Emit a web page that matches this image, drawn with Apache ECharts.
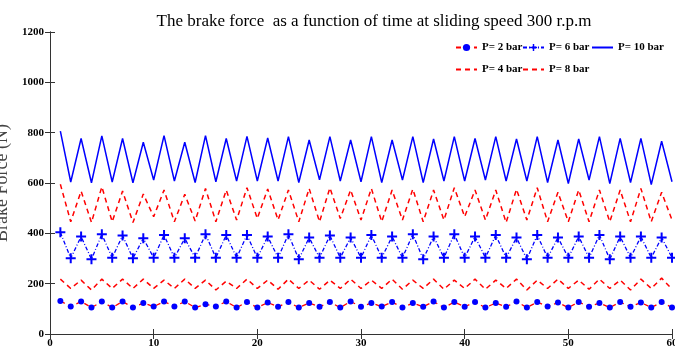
<!DOCTYPE html>
<html>
<head>
<meta charset="utf-8">
<script src="https://cdn.jsdelivr.net/npm/echarts@6/dist/echarts.min.js"></script>
<style>html,body{margin:0;padding:0;background:#fff}#c{width:675px;height:351px}</style>
</head>
<body>
<div id="c"></div>
<script>
var time = [1,2,3,4,5,6,7,8,9,10,11,12,13,14,15,16,17,18,19,20,21,22,23,24,25,26,27,28,29,30,31,32,33,34,35,36,37,38,39,40,41,42,43,44,45,46,47,48,49,50,51,52,53,54,55,56,57,58,59,60];
var p2 = [131,109,129,105,129,105,129,105,123,109,129,109,129,105,118,109,129,105,127,105,125,108,127,105,123,108,127,105,129,108,123,109,127,105,123,108,129,105,127,108,127,105,123,108,129,105,127,109,125,105,127,108,123,105,127,108,125,105,127,105];
var p4 = [218,181,214,175,218,181,218,181,218,181,214,181,218,181,214,175,210,181,218,181,214,178,218,181,214,178,214,181,218,181,214,181,218,178,214,181,218,178,214,181,218,178,214,181,218,175,214,181,218,181,214,178,218,181,214,175,218,181,222,178];
var p6 = [404,301,387,297,396,303,391,301,380,303,393,303,380,303,396,303,393,303,393,303,387,303,396,297,383,303,391,303,383,303,393,303,387,303,396,297,387,303,396,303,387,303,393,303,383,297,393,303,383,303,387,303,393,297,387,303,387,303,383,303];
var p8 = [595,446,568,443,585,446,568,443,556,466,572,446,555,449,578,446,572,453,581,459,576,453,572,446,578,446,581,459,572,453,578,446,572,453,576,446,572,453,581,466,572,453,572,443,575,453,581,446,563,446,572,446,572,446,572,446,578,446,563,453];
var p10 = [806,604,777,601,787,604,777,601,762,612,788,608,762,602,788,605,777,608,785,608,779,608,784,602,771,613,784,608,771,605,784,602,771,612,784,602,775,608,784,608,777,612,784,608,775,608,784,602,771,598,775,612,784,598,777,602,777,594,766,605];
var xTicks = [0,10,20,30,40,50,60];
var yTicks = [0,200,400,600,800,1000,1200];

function pairs(v){ return time.map(function(t,i){ return [t, v[i]]; }); }
var FONT = "'Liberation Serif','Times New Roman',serif";
var plus = 'path://M4,0 L6,0 L6,4 L10,4 L10,6 L6,6 L6,10 L4,10 L4,6 L0,6 L0,4 L4,4 Z';
var chart = echarts.init(document.getElementById('c'));
var axisCommon = {
  axisLine:{show:true, lineStyle:{color:'#333', width:1}},
  axisTick:{show:true, inside:true, length:5, lineStyle:{color:'#333'}},
  splitLine:{show:false}
};
function leg(name, left, top, hideSym){
  var l = {data:[name], left:left, top:top, itemWidth:21, itemHeight:9, itemGap:4,
    textStyle:{fontFamily:FONT, fontWeight:'bold', fontSize:11, color:'#000'}};
  if (hideSym) l.itemStyle = {opacity:0};
  return l;
}
chart.setOption({
  animation:false,
  title:{text:'The brake force  as a function of time at sliding speed 300 r.p.m', left:369, textAlign:'center', top:8,
    textStyle:{fontFamily:FONT, fontWeight:'normal', fontSize:17, color:'#000'}},
  grid:{left:50, right:3, top:32, bottom:17, outerBoundsMode:'none', containLabel:false},
  legend:[leg('P= 2 bar',450,37,false), leg('P= 6 bar',517,37,false), leg('P= 10 bar',586,37,true), leg('P= 4 bar',450,59,true), leg('P= 8 bar',517,59,true)],
  xAxis:[
    Object.assign({type:'value', min:0, max:60, interval:10, position:'bottom',
      axisLabel:{fontFamily:FONT, fontWeight:'bold', fontSize:11, color:'#000', margin:4,
        formatter:function(v){ return xTicks.indexOf(v)>=0 ? String(v) : ''; }}}, axisCommon),
    Object.assign({type:'value', min:0, max:60, interval:10, position:'top', axisLabel:{show:false}}, axisCommon)
  ],
  yAxis:[
    Object.assign({type:'value', min:0, max:1200, interval:200, position:'left',
      name:'Brake Force (N)', nameLocation:'middle', nameGap:32, nameRotate:90,
      nameTextStyle:{fontFamily:FONT, fontSize:18, color:'#444'},
      axisLabel:{fontFamily:FONT, fontWeight:'bold', fontSize:11, color:'#000', margin:6,
        formatter:function(v){ return yTicks.indexOf(v)>=0 ? String(v) : ''; }}}, axisCommon),
    Object.assign({type:'value', min:0, max:1200, interval:200, position:'right', axisLabel:{show:false}}, axisCommon)
  ],
  series:[
    {name:'P= 2 bar', type:'line', data:pairs(p2), symbol:'circle', symbolSize:6,
      itemStyle:{color:'#0000ff'}, lineStyle:{color:'#ff0000', width:1.3, type:[5,4]}},
    {name:'P= 6 bar', type:'line', data:pairs(p6), symbol:plus, symbolSize:10,
      itemStyle:{color:'#0000ff'}, lineStyle:{color:'#0000ff', width:1.3, type:[4,2,1,2]}},
    {name:'P= 10 bar', type:'line', data:pairs(p10), symbol:'none', showSymbol:false,
      itemStyle:{color:'#0000ff'}, lineStyle:{color:'#0000ff', width:1.5}},
    {name:'P= 4 bar', type:'line', data:pairs(p4), symbol:'none', showSymbol:false,
      itemStyle:{color:'#ff0000'}, lineStyle:{color:'#ff0000', width:1.5, type:[5,4]}},
    {name:'P= 8 bar', type:'line', data:pairs(p8), symbol:'none', showSymbol:false,
      itemStyle:{color:'#ff0000'}, lineStyle:{color:'#ff0000', width:1.5, type:[5,4]}}
  ]
});
</script>
</body>
</html>
